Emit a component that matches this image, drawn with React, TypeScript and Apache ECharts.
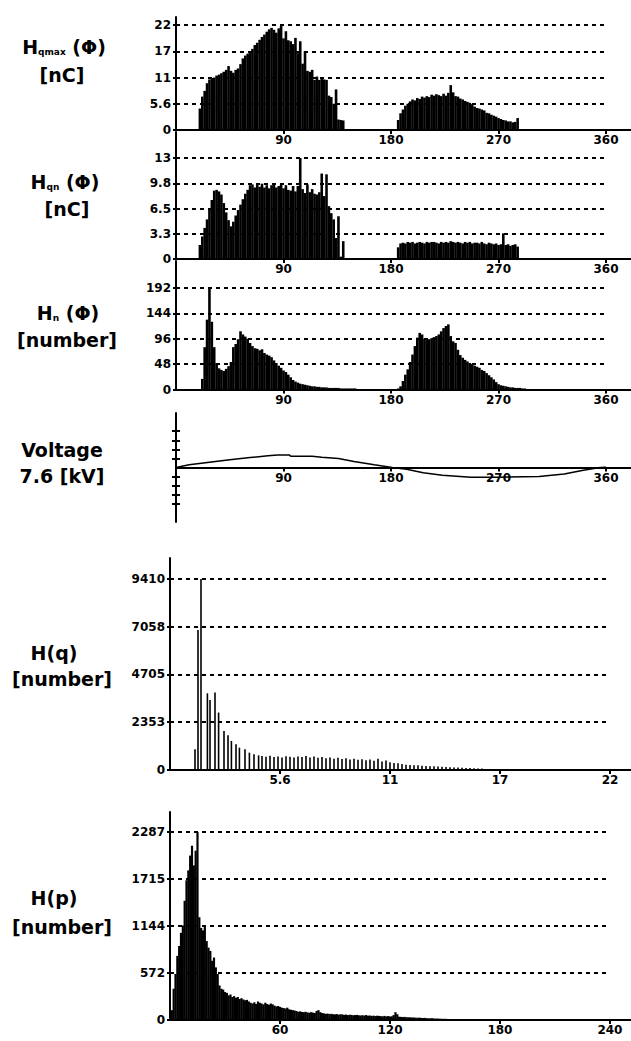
import React, { useEffect, useRef } from "react";
import * as echarts from "echarts";

// ---------- DATA ----------
const PHASE_STEP = 2; // degrees per bin
const phaseTickValues = [90, 180, 270, 360];

// H_qmax(phi) [nC]
const hqmaxTickLabels = ["0", "5.6", "11", "17", "22"];
const hqmaxTop = 22;
const hqmaxStartA = 20;
const hqmaxA = [
  4.5, 7.0, 8.2, 9.8, 10.6, 10.9, 11.0, 11.4, 11.6, 11.9, 12.2, 12.6, 13.4, 12.4, 12.0, 12.6, 12.9, 13.8,
  15.0, 15.6, 16.0, 16.5, 17.0, 17.8, 18.3, 18.9, 19.5, 20.0, 20.6, 21.1, 21.4, 21.0, 20.4, 21.3, 21.8,
  19.2, 20.7, 18.8, 18.6, 18.0, 19.3, 16.1, 18.6, 13.9, 16.5, 12.4, 12.2, 12.6, 10.5, 11.2, 10.5, 10.8,
  10.6, 10.5, 7.2, 6.9, 5.5, 8.5, 2.2, 2.1, 2.0, 0,
];
const hqmaxStartB = 186;
const hqmaxB = [
  2.1, 3.5, 4.3, 5.1, 5.5, 6.0, 6.4, 6.2, 6.7, 6.5, 7.0, 6.8, 7.1, 6.9, 7.4, 7.2, 7.5, 7.3, 7.1, 7.6, 7.2,
  7.8, 9.4, 7.9, 7.1, 7.0, 6.6, 6.4, 6.1, 5.9, 5.7, 5.4, 4.9, 4.6, 4.5, 4.3, 4.1, 3.6, 3.5, 3.2, 3.0, 2.8,
  2.5, 2.3, 2.1, 2.0, 1.8, 1.8, 1.6, 1.7, 2.5,
];

// H_qn(phi) [nC]
const hqnTickLabels = ["0", "3.3", "6.5", "9.8", "13"];
const hqnTop = 13;
const hqnStartA = 20;
const hqnA = [
  1.8, 2.9, 4.0, 5.1, 6.4, 7.6, 8.8, 8.9, 8.7, 8.3, 7.2, 6.0, 5.0, 4.2, 4.8, 5.6, 6.3, 7.0, 7.7, 8.4, 8.9,
  9.5, 9.6, 9.2, 9.6, 9.3, 9.7, 9.2, 9.5, 9.1, 9.5, 9.6, 9.2, 9.4, 9.6, 9.1, 9.5, 8.9, 8.8, 9.4, 8.7, 9.4,
  13.0, 9.0, 8.5, 9.6, 8.6, 9.0, 8.4, 8.3, 8.6, 11.0, 8.1, 10.9, 6.8, 5.9, 5.1, 2.7, 5.5, 0.3, 2.3,
];
const hqnStartB = 186;
const hqnB = [
  1.5, 2.0, 2.1, 2.0, 2.2, 2.1, 2.2, 2.0, 2.1, 2.2, 2.1, 2.0, 2.2, 2.1, 2.2, 2.2, 2.1, 2.0, 2.2, 2.1, 2.2,
  2.1, 2.3, 2.2, 2.1, 2.2, 2.1, 2.0, 2.2, 2.1, 2.2, 2.0, 2.1, 2.1, 2.0, 2.2, 2.0, 1.9, 2.1, 2.0, 1.9, 2.0,
  1.8, 1.9, 3.3, 1.8, 1.9, 1.7, 1.8, 1.9, 1.6,
];

// H_n(phi) [number]
const hnTickLabels = ["0", "48", "96", "144", "192"];
const hnTop = 192;
const hnStartA = 22;
const hnA = [
  20, 80, 132, 192, 128, 80, 50, 40, 37, 35, 39, 44, 52, 80, 86, 95, 110, 104, 100, 96, 88, 82, 78, 77, 74,
  76, 69, 66, 64, 61, 55, 50, 45, 41, 36, 33, 28, 23, 18, 15, 13, 11, 10, 9, 8, 7, 6, 6, 5, 5, 4, 4, 4, 3,
  3, 3, 3, 3, 2, 2, 2, 2, 2, 2, 2, 1, 1, 1, 1, 1, 1, 1,
];
const hnStartB = 186;
const hnB = [
  2, 6, 16, 28, 38, 52, 66, 82, 98, 107, 104, 96, 94, 95, 97, 99, 101, 104, 110, 116, 120, 123, 101, 91, 88,
  75, 65, 60, 56, 53, 50, 48, 45, 43, 41, 37, 35, 31, 27, 23, 19, 14, 10, 8, 7, 6, 5, 4, 4, 3, 3, 3, 2, 2,
  1, 1, 1, 1, 1, 1, 1, 1, 1,
];

// Voltage
const voltageAxisMax = 33;
const voltagePhase = [0, 11, 28, 45, 62, 77, 85, 95, 96, 114, 122, 136, 149, 166, 181, 193, 207, 223, 247, 271, 304, 325, 341, 355, 360];
const voltageKv = [0, 1.6, 3.2, 4.7, 6.0, 7.1, 7.6, 7.6, 6.8, 6.8, 6.2, 5.5, 3.6, 1.6, 0, -1.1, -3.2, -4.7, -5.9, -5.9, -5.5, -4.0, -1.6, 0, 0.2];

// H(q) [number]
const hqTickLabels = ["0", "2353", "4705", "7058", "9410"];
const hqTop = 9410;
const qTickValues = [5.5, 11, 16.5, 22];
const qTickLabels = ["5.6", "11", "17", "22"];
const hqCharge = [
  1.0, 1.25, 1.4, 1.55, 1.87, 2.0, 2.25, 2.43, 2.7, 2.9, 3.07, 3.3, 3.47, 3.75, 3.97, 4.2, 4.43,
  4.6, 4.8, 5.0, 5.2, 5.4, 5.6, 5.8, 6.0, 6.2, 6.4, 6.6, 6.8, 7.0, 7.2, 7.4, 7.6, 7.8, 8.0, 8.2, 8.4, 8.6,
  8.8, 9.0, 9.2, 9.4, 9.6, 9.8, 10.0, 10.2, 10.4, 10.6, 10.8, 11.0, 11.2, 11.4, 11.6, 11.8, 12.0, 12.2,
  12.4, 12.6, 12.8, 13.0, 13.2, 13.4, 13.6, 13.8, 14.0, 14.2, 14.4, 14.6, 14.8, 15.0, 15.2, 15.4, 15.6, 15.8,
];
const hqCount = [
  50, 1020, 6900, 9410, 3780, 3450, 3820, 2830, 1925, 1710, 1430, 1270, 1100, 1020, 855, 770, 720,
  690, 650, 700, 640, 660, 620, 680, 650, 610, 670, 640, 690, 620, 660, 600, 640, 580, 620, 560, 600, 540,
  580, 520, 560, 500, 530, 480, 520, 460, 560, 420, 470, 380, 350, 330, 300, 260, 250, 230,
  240, 210, 200, 190, 180, 170, 160, 150, 130, 120, 125, 110, 100, 95, 90, 80, 70, 50,
];

// H(p) [number]
const hpTickLabels = ["0", "572", "1144", "1715", "2287"];
const hpTop = 2287;
const pTickValues = [60, 120, 180, 240];
const hpStart = 1;
const hpCount = [
  120, 380, 560, 780, 900, 1060, 1150, 1450, 1700, 1820, 2000, 2120, 1880, 2060, 2287, 1250, 1120, 1090,
  1150, 960, 880, 840, 720, 760, 640, 560, 420, 380, 370, 340, 330, 300, 310, 280, 290, 270, 280, 255, 265,
  250, 240, 245, 225, 210, 200, 215, 195, 225, 210, 200, 190, 210, 195, 185, 200, 190, 175, 165, 170, 160,
  150, 145, 140, 150, 130, 125, 120, 115, 110, 100, 105, 98, 95, 100, 92, 88, 95, 90, 85, 110, 120, 95, 85,
  80, 75, 78, 72, 75, 70, 68, 72, 65, 70, 68, 62, 66, 60, 64, 62, 58, 60, 62, 57, 55, 58, 54, 60, 52, 55,
  50, 53, 48, 52, 50, 47, 45, 50, 44, 48, 42, 45, 60, 95, 70, 40, 38, 36, 38, 34, 33, 32, 30, 31, 28, 27,
  29, 25, 24, 26, 22, 21, 20, 22, 18, 17, 18, 16, 15, 14, 15, 13, 12, 12, 11, 10, 10, 9, 9, 8, 8, 8, 7, 7,
  6, 6, 6, 5, 5, 5, 5, 4, 4, 4, 3, 3, 3, 3, 3, 2, 2, 2, 8, 2, 2, 2, 1, 6, 1, 1, 1, 1, 1, 1, 0, 0, 1,
];

// ---------- STYLE ----------
const BLACK = "#000";
const TICK_FONT = { fontFamily: "DejaVu Sans", fontWeight: "bold" as const, fontSize: 12, color: BLACK };
const TITLE_FONT = 'bold 19px "DejaVu Sans"';
const GRID_LINE = { color: BLACK, type: [4, 4] as number[], width: 2 };

function seg(start: number, vals: number[]) {
  return vals.map((v, i) => [start + i * PHASE_STEP, v]);
}

function pickLabel(vals: number[], labels: string[], v: number) {
  let best = 0;
  vals.forEach((t, i) => {
    if (Math.abs(t - v) < Math.abs(vals[best] - v)) best = i;
  });
  return labels[best];
}

function xAxisDef(grid: number, max: number, vals: number[], labels: string[], opts: any = {}) {
  const showLine = opts.showLine !== false;
  const showLabel = opts.showLabel !== false;
  return {
    type: "value",
    gridIndex: grid,
    min: 0,
    max,
    axisLine: { show: showLine, onZero: true, onZeroAxisIndex: grid, lineStyle: { color: BLACK, width: 2 } },
    axisTick: { show: showLine, customValues: vals, length: 4, lineStyle: { color: BLACK, width: 2 } },
    axisLabel: {
      show: showLabel,
      customValues: vals,
      margin: 4,
      formatter: (v: number) => pickLabel(vals, labels, v),
      ...TICK_FONT,
    },
    splitLine: { show: false },
  };
}

function yAxisDef(grid: number, top: number, max: number, labels: string[]) {
  const vals = labels.map((_, i) => (top * i) / (labels.length - 1));
  return {
    type: "value",
    gridIndex: grid,
    min: 0,
    max,
    axisLine: { show: true, lineStyle: { color: BLACK, width: 2 } },
    axisTick: { show: true, customValues: vals, length: 3, lineStyle: { color: BLACK, width: 2 } },
    axisLabel: {
      show: true,
      customValues: vals,
      margin: 5,
      formatter: (v: number) => labels[Math.round((v / top) * (labels.length - 1))],
      ...TICK_FONT,
    },
    splitLine: { show: false },
  };
}

function gridMarks(top: number, n: number, xEnd: number) {
  const data: any[] = [];
  for (let i = 1; i < n; i++) {
    const v = (top * i) / (n - 1);
    data.push([{ coord: [0, v] }, { coord: [xEnd, v] }]);
  }
  return {
    silent: true,
    symbol: ["none", "none"],
    label: { show: false },
    lineStyle: GRID_LINE,
    emphasis: { disabled: true },
    data,
  };
}

function barSeries(idx: number, data: number[][], width: number, top: number, n: number, xEnd: number) {
  return {
    type: "bar",
    xAxisIndex: idx,
    yAxisIndex: idx,
    data,
    barWidth: width,
    itemStyle: { color: BLACK },
    silent: true,
    markLine: gridMarks(top, n, xEnd),
  };
}

function title(x: number, y: number, text: string, rich?: any) {
  return {
    type: "text",
    x,
    y,
    silent: true,
    style: {
      text,
      font: TITLE_FONT,
      fill: BLACK,
      align: "center",
      verticalAlign: "middle",
      textAlign: "center",
      textVerticalAlign: "middle",
      rich,
    },
  };
}

const subRich = {
  h: { font: TITLE_FONT, fill: BLACK, color: BLACK },
  s: { fontFamily: "DejaVu Sans", fontWeight: "bold", fontSize: 9, color: BLACK, padding: [10, 0, 0, 0] },
};

export default function App() {
  const ref = useRef<HTMLDivElement>(null);
  useEffect(() => {
    document.body.style.margin = "0";
    if (!ref.current) return;
    const chart = echarts.init(ref.current, null, { renderer: "svg" });

    const phaseMax = 380.9;
    const voltTick = voltageAxisMax / 6;
    const voltTicks = [-4, -3, -2, -1, 1, 2, 3, 4].map((k) => k * voltTick);
    const phaseLabels = phaseTickValues.map(String);

    const voltY = (inside: boolean, showLine: boolean) => ({
      type: "value",
      gridIndex: 3,
      position: "left",
      offset: 0,
      min: -voltageAxisMax,
      max: voltageAxisMax,
      axisLine: { show: showLine, onZero: false, lineStyle: { color: BLACK, width: 2 } },
      axisTick: { show: true, inside, customValues: voltTicks, length: 4, lineStyle: { color: BLACK, width: 2 } },
      axisLabel: { show: false },
      splitLine: { show: false },
    });

    const option: any = {
      animation: false,
      backgroundColor: "#fff",
      grid: [
        { left: 176, top: 17, width: 455, height: 113 },
        { left: 176, top: 132, width: 455, height: 127 },
        { left: 176, top: 261, width: 455, height: 128.5 },
        { left: 176, top: 413, width: 455, height: 109 },
        { left: 170, top: 558, width: 461, height: 212 },
        { left: 170, top: 812, width: 461, height: 208 },
        // upper half of the voltage panel: carries the phase labels under the zero line
        { left: 176, top: 413, width: 455, height: 54.5 },
      ],
      xAxis: [
        xAxisDef(0, phaseMax, phaseTickValues, phaseLabels),
        xAxisDef(1, phaseMax, phaseTickValues, phaseLabels),
        xAxisDef(2, phaseMax, phaseTickValues, phaseLabels),
        xAxisDef(3, phaseMax, phaseTickValues, phaseLabels, { showLabel: false }),
        xAxisDef(4, 23.05, qTickValues, qTickLabels),
        xAxisDef(5, 251.5, pTickValues, pTickValues.map(String)),
        xAxisDef(6, phaseMax, phaseTickValues, phaseLabels, { showLine: false }),
      ],
      yAxis: [
        yAxisDef(0, hqmaxTop, 23.68, hqmaxTickLabels),
        yAxisDef(1, hqnTop, 16.35, hqnTickLabels),
        yAxisDef(2, hnTop, 242.8, hnTickLabels),
        voltY(false, true),
        yAxisDef(4, hqTop, 10444, hqTickLabels),
        yAxisDef(5, hpTop, 2530, hpTickLabels),
        { type: "value", gridIndex: 6, min: 0, max: 1, show: false },
        voltY(true, false),
      ],
      series: [
        barSeries(0, [...seg(hqmaxStartA, hqmaxA), ...seg(hqmaxStartB, hqmaxB)], 2.6, hqmaxTop, 5, 360),
        barSeries(1, [...seg(hqnStartA, hqnA), ...seg(hqnStartB, hqnB)], 2.6, hqnTop, 5, 360),
        barSeries(2, [...seg(hnStartA, hnA), ...seg(hnStartB, hnB)], 2.6, hnTop, 5, 360),
        {
          type: "line",
          xAxisIndex: 3,
          yAxisIndex: 3,
          data: voltagePhase.map((p, i) => [p, voltageKv[i]]),
          showSymbol: false,
          lineStyle: { color: BLACK, width: 1.5 },
          silent: true,
        },
        barSeries(4, hqCharge.map((q, i) => [q, hqCount[i]]), 1.6, hqTop, 5, 22),
        barSeries(5, hpCount.map((c, i) => [hpStart + i, c]), 2.2, hpTop, 5, 240),
      ],
      graphic: [
        title(64, 47, "{h|H}{s|qmax}{h| (Φ)}", subRich),
        title(62, 75, "[nC]"),
        title(65, 182, "{h|H}{s|qn}{h| (Φ)}", subRich),
        title(67, 209, "[nC]"),
        title(68, 313, "{h|H}{s|n}{h| (Φ)}", subRich),
        title(67, 340, "[number]"),
        title(62, 450, "Voltage"),
        title(62, 476, "7.6 [kV]"),
        title(54, 653, "H(q)"),
        title(62, 679, "[number]"),
        title(54, 898, "H(p)"),
        title(62, 927, "[number]"),
      ],
    };
    chart.setOption(option);
    return () => chart.dispose();
  }, []);
  return <div ref={ref} style={{ width: 631, height: 1041 }} />;
}
